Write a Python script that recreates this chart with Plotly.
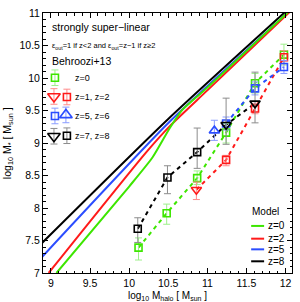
import plotly.graph_objects as go

# ---------------- data ----------------
# model curves (log10 Mhalo, log10 M*)
mod_z0_x = [9.07, 10.0, 10.30, 10.52, 10.68, 10.94, 11.32, 12.10]
mod_z0_y = [7.00, 8.33, 8.78, 9.23, 9.51, 9.79, 10.21, 11.09]
mod_z2_x = [8.97, 10.22, 10.52, 11.00, 12.10]
mod_z2_y = [7.00, 8.86, 9.26, 9.81, 11.07]
mod_z5_x = [8.85, 10.52, 12.10]
mod_z5_y = [7.20, 9.33, 11.08]
mod_z8_x = [8.85, 10.50, 12.10]
mod_z8_y = [7.42, 9.37, 11.13]

# Behroozi+13 points
g_x = [10.12, 10.48, 10.87, 11.24, 11.61, 11.98]          # z=0 squares
g_y = [7.39, 7.92, 8.46, 9.16, 9.92, 10.36]
g_ep = [0.15, 0.14, 0.11, 0.14, 0.15, 0.16]
g_em = [0.19, 0.17, 0.10, 0.16, 0.15, 0.16]

r1_x = [10.86]; r1_y = [8.28]; r1_ep = [0.12]; r1_em = [0.15]   # z=1 triangles
r2_x = [11.24, 11.61, 11.98]                                 # z=2 squares
r2_y = [8.74, 9.53, 10.32]
r2_ep = [0.07, 0.08, 0.10]
r2_em = [0.09, 0.08, 0.10]

b6_x = [11.09]; b6_y = [9.19]; b6_ep = [0.16]; b6_em = [0.15]   # z=6 triangles
b5_x = [11.24, 11.61, 11.98]                                 # z=5 squares
b5_y = [9.30, 9.84, 10.17]
b5_ep = [0.10, 0.10, 0.10]
b5_em = [0.10, 0.10, 0.10]

k8_x = [10.11, 10.49, 10.87]                                 # z=8 squares
k8_y = [7.68, 8.47, 8.86]
k8_ep = [0.17, 0.18, 0.37]
k8_em = [0.21, 0.25, 0.25]
k7_x = [11.24, 11.61]                                        # z=7 triangles
k7_y = [9.28, 9.61]
k7_ep = [0.41, 0.48]
k7_em = [0.30, 0.30]

GREEN = '#3de600'
RED = '#ff1a1a'
BLUE = '#2b4dff'
BLACK = '#000000'
GREEN_E = '#9df08a'
RED_E = '#ff8a8a'
BLUE_E = '#8a9cff'
BLACK_E = '#8c8c8c'
FONT = 'Liberation Sans, Arial, sans-serif'

fig = go.Figure()

# model lines
for xs, ys, c in [(mod_z8_x, mod_z8_y, BLACK), (mod_z5_x, mod_z5_y, BLUE),
                  (mod_z2_x, mod_z2_y, RED), (mod_z0_x, mod_z0_y, GREEN)]:
    fig.add_trace(go.Scatter(x=xs, y=ys, mode='lines',
                             line=dict(color=c, width=2, shape='spline', smoothing=0.6),
                             showlegend=False, hoverinfo='skip'))

def dashed(xs, ys, c):
    fig.add_trace(go.Scatter(x=xs, y=ys, mode='lines',
                             line=dict(color=c, width=2, dash='4px,4px'),
                             showlegend=False, hoverinfo='skip'))

def pts(xs, ys, ep, em, c, ce, sym, size, xa='x', ya='y'):
    fig.add_trace(go.Scatter(
        x=xs, y=ys, mode='markers', xaxis=xa, yaxis=ya,
        marker=dict(symbol=sym, size=size, color=c,
                    line=dict(color=c, width=1.6)),
        error_y=dict(type='data', symmetric=False, array=ep, arrayminus=em,
                     color=ce, thickness=1, width=3.5),
        showlegend=False, hoverinfo='skip'))

# dashed connectors
dashed(g_x, g_y, GREEN)
dashed(r1_x + r2_x, r1_y + r2_y, RED)
dashed(b5_x, b5_y, BLUE)
dashed(k8_x + k7_x, k8_y + k7_y, BLACK)

pts(g_x, g_y, g_ep, g_em, GREEN, GREEN_E, 'square-open', 7)
pts(r2_x, r2_y, r2_ep, r2_em, RED, RED_E, 'square-open', 7)
pts(r1_x, r1_y, r1_ep, r1_em, RED, RED_E, 'triangle-down-open', 9)
pts(b5_x, b5_y, b5_ep, b5_em, BLUE, BLUE_E, 'square-open', 7)
pts(b6_x, b6_y, b6_ep, b6_em, BLUE, BLUE_E, 'triangle-up-open', 9)
pts(k8_x, k8_y, k8_ep, k8_em, BLACK, BLACK_E, 'square-open', 7)
pts(k7_x, k7_y, k7_ep, k7_em, BLACK, BLACK_E, 'triangle-down-open', 9)

# ---- in-plot legend for data (overlay axes in [0,1]) ----
leg_e = [0.03]
pts([0.048], [0.751], leg_e, leg_e, GREEN, GREEN_E, 'square-open', 7, 'x2', 'y2')
pts([0.044], [0.679], leg_e, leg_e, RED, RED_E, 'triangle-down-open', 11, 'x2', 'y2')
pts([0.096], [0.677], leg_e, leg_e, RED, RED_E, 'square-open', 7, 'x2', 'y2')
pts([0.048], [0.604], leg_e, leg_e, BLUE, BLUE_E, 'square-open', 7, 'x2', 'y2')
pts([0.092], [0.608], leg_e, leg_e, BLUE, BLUE_E, 'triangle-up-open', 11, 'x2', 'y2')
pts([0.044], [0.526], leg_e, leg_e, BLACK, BLACK_E, 'triangle-down-open', 11, 'x2', 'y2')
pts([0.096], [0.528], leg_e, leg_e, BLACK, BLACK_E, 'square-open', 7, 'x2', 'y2')

# model legend lines
model_labels = ['z=0', 'z=2', 'z=5', 'z=8']
model_colors = [GREEN, RED, BLUE, BLACK]
model_rows = [0.181, 0.132, 0.091, 0.045]
for lab, c, yy in zip(model_labels, model_colors, model_rows):
    fig.add_trace(go.Scatter(x=[0.836, 0.888], y=[yy, yy], mode='lines',
                             xaxis='x2', yaxis='y2',
                             line=dict(color=c, width=2), showlegend=False,
                             hoverinfo='skip'))

ann = []
def txt(x, y, s, size, xanchor='left'):
    ann.append(dict(x=x, y=y, xref='paper', yref='paper', text=s,
                    showarrow=False, xanchor=xanchor, yanchor='middle',
                    font=dict(family=FONT, size=size, color='black')))

txt(0.030, 0.947, 'strongly super\u2212linear', 10.5)
txt(0.030, 0.872, '\u03b5<sub>out</sub>=1 if z&lt;2 and \u03b5<sub>out</sub>=z\u22121 if z\u22652', 7.5)
txt(0.030, 0.817, 'Behroozi+13', 10.5)
txt(0.120, 0.749, 'z=0', 9)
txt(0.120, 0.677, 'z=1, z=2', 9)
txt(0.120, 0.604, 'z=5, z=6', 9)
txt(0.120, 0.528, 'z=7, z=8', 9)
txt(0.892, 0.238, 'Model', 10, 'center')
for lab, yy in zip(model_labels, model_rows):
    txt(0.896, yy, lab, 10)

# axis titles
ann.append(dict(x=0.5, y=-0.062, xref='paper', yref='paper',
                text='log<sub>10</sub> M<sub>halo</sub> [ M<sub>sun</sub> ]',
                showarrow=False, xanchor='center', yanchor='top', borderpad=0,
                font=dict(family=FONT, size=10, color='black')))
ann.append(dict(x=-0.14, y=0.5, xref='paper', yref='paper',
                text='log<sub>10</sub> M<sub>*</sub> [ M<sub>sun</sub> ]',
                showarrow=False, xanchor='center', yanchor='middle', textangle=-90,
                font=dict(family=FONT, size=10.5, color='black')))

axis_common = dict(showgrid=False, zeroline=False, showline=True, linecolor='black',
                   linewidth=1, mirror='allticks', ticks='inside', ticklen=5,
                   tickcolor='black', tickwidth=1,
                   tickfont=dict(family=FONT, size=10.5, color='black'))

fig.update_layout(
    width=300, height=302,
    margin=dict(l=43, r=7, t=8, b=29),
    paper_bgcolor='white', plot_bgcolor='white',
    xaxis=dict(range=[8.898, 12.083], tickmode='linear', tick0=9, dtick=0.5,
               minor=dict(ticks='inside', ticklen=2.5, dtick=0.1, tick0=9,
                          tickcolor='black'),
               **axis_common),
    yaxis=dict(range=[7, 11], tickmode='linear', tick0=7, dtick=0.5,
               minor=dict(ticks='inside', ticklen=2.5, dtick=0.1, tick0=7,
                          tickcolor='black'),
               **axis_common),
    xaxis2=dict(overlaying='x', range=[0, 1], visible=False, anchor='y2'),
    yaxis2=dict(overlaying='y', range=[0, 1], visible=False, anchor='x2'),
    annotations=ann,
    showlegend=False,
)

fig.write_html('out.html', config={'displayModeBar': False, 'staticPlot': True},
               post_script="document.body.style.margin='0';document.body.style.overflow='hidden';")
